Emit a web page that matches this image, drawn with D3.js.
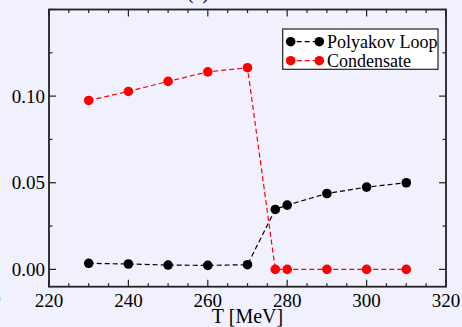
<!DOCTYPE html>
<html>
<head>
<meta charset="utf-8">
<script src="https://cdn.jsdelivr.net/npm/d3@7"></script>
<style>
  html, body { margin: 0; padding: 0; background: #f1f1fd; }
  svg { display: block; font-family: "Liberation Serif", "DejaVu Serif", serif; }
</style>
</head>
<body>
<svg id="chart" width="462" height="327"></svg>
<script>
// data
var temps = [230, 240, 250, 260, 270, 277, 280, 290, 300, 310];
var polyakov = [0.0035, 0.0031, 0.0025, 0.0023, 0.0027, 0.0346, 0.0371, 0.0438, 0.0475, 0.0500];
var condensate = [0.0975, 0.1027, 0.1085, 0.1140, 0.1164, 0.0, 0.0, 0.0, 0.0, 0.0];
var xTicks = [220, 240, 260, 280, 300, 320];
var yTicks = [0.00, 0.05, 0.10];
var seriesNames = ['Polyakov Loop', 'Condensate'];

var svg = d3.select('#chart');
var pLeft = 49, pRight = 446, pTop = 9.5, pBottom = 286.7;

var x = d3.scaleLinear().domain([220, 320]).range([pLeft, pRight]);
var y = d3.scaleLinear().domain([-0.01, 0.15]).range([pBottom, pTop]);

// panel label, mostly cut off at the top
svg.append('text').attr('x', 198).attr('y', -1)
  .attr('text-anchor', 'middle').style('font-size', '20px').text('(a)');
// stray tick label from the neighbouring panel
svg.append('text').attr('x', -6).attr('y', 303)
  .style('font-size', '13px').text('0');

// ticks, inward on all four sides
var minorX = d3.range(220, 321, 5), minorY = d3.range(0, 0.151, 0.025);
var tg = svg.append('g').attr('stroke', '#222').attr('stroke-width', 1.2);
minorX.forEach(function (t) {
  var len = xTicks.indexOf(t) >= 0 ? 7 : 3.5;
  tg.append('line').attr('x1', x(t)).attr('x2', x(t)).attr('y1', pBottom).attr('y2', pBottom - len);
  tg.append('line').attr('x1', x(t)).attr('x2', x(t)).attr('y1', pTop).attr('y2', pTop + len);
});
minorY.forEach(function (t, i) {
  var len = i % 2 == 0 ? 7 : 3.5;
  tg.append('line').attr('y1', y(t)).attr('y2', y(t)).attr('x1', pLeft).attr('x2', pLeft + len);
  tg.append('line').attr('y1', y(t)).attr('y2', y(t)).attr('x1', pRight).attr('x2', pRight - len);
});

// tick labels
svg.selectAll('.xl').data(xTicks).enter().append('text')
  .attr('x', function (d) { return x(d); }).attr('y', 307)
  .attr('text-anchor', 'middle').style('font-size', '19px')
  .text(function (d) { return d; });
svg.selectAll('.yl').data(yTicks).enter().append('text')
  .attr('x', 45).attr('y', function (d) { return y(d); }).attr('dy', '0.34em')
  .attr('text-anchor', 'end').style('font-size', '19px')
  .text(function (d) { return d3.format('.2f')(d); });

svg.append('text').attr('x', (pLeft + pRight) / 2).attr('y', 323)
  .attr('text-anchor', 'middle').style('font-size', '20px').text('T [MeV]');

// series
var line = d3.line().x(function (d) { return x(d[0]); }).y(function (d) { return y(d[1]); });
var series = [
  { name: seriesNames[0], color: '#000', values: d3.zip(temps, polyakov) },
  { name: seriesNames[1], color: '#ff0000', values: d3.zip(temps, condensate) }
];
series.forEach(function (s) {
  svg.append('path').attr('d', line(s.values))
    .attr('fill', 'none').attr('stroke', s.color)
    .attr('stroke-width', 1.2).attr('stroke-dasharray', '5,3');
  svg.selectAll(null).data(s.values).enter().append('circle')
    .attr('cx', function (d) { return x(d[0]); })
    .attr('cy', function (d) { return y(d[1]); })
    .attr('r', 4.8).attr('fill', s.color);
});

// frame
svg.append('rect').attr('x', pLeft).attr('y', pTop)
  .attr('width', pRight - pLeft).attr('height', pBottom - pTop)
  .attr('fill', 'none').attr('stroke', '#222').attr('stroke-width', 1.8);

// legend
var lg = svg.append('g');
lg.append('rect').attr('x', 282.7).attr('y', 29).attr('width', 155.3).attr('height', 40.3)
  .attr('fill', '#fff').attr('stroke', '#222').attr('stroke-width', 1.2);
series.forEach(function (s, i) {
  var ly = 41.7 + i * 19;
  lg.append('line').attr('x1', 290.7).attr('x2', 319.3).attr('y1', ly).attr('y2', ly)
    .attr('stroke', s.color).attr('stroke-width', 1.2).attr('stroke-dasharray', '5,3')
    .attr('stroke-dashoffset', -6);
  [290.7, 319.3].forEach(function (cx) {
    lg.append('circle').attr('cx', cx).attr('cy', ly).attr('r', 4.8).attr('fill', s.color);
  });
  lg.append('text').attr('x', 327).attr('y', ly).attr('dy', '0.33em')
    .style('font-size', '18px').text(s.name);
});
</script>
</body>
</html>
